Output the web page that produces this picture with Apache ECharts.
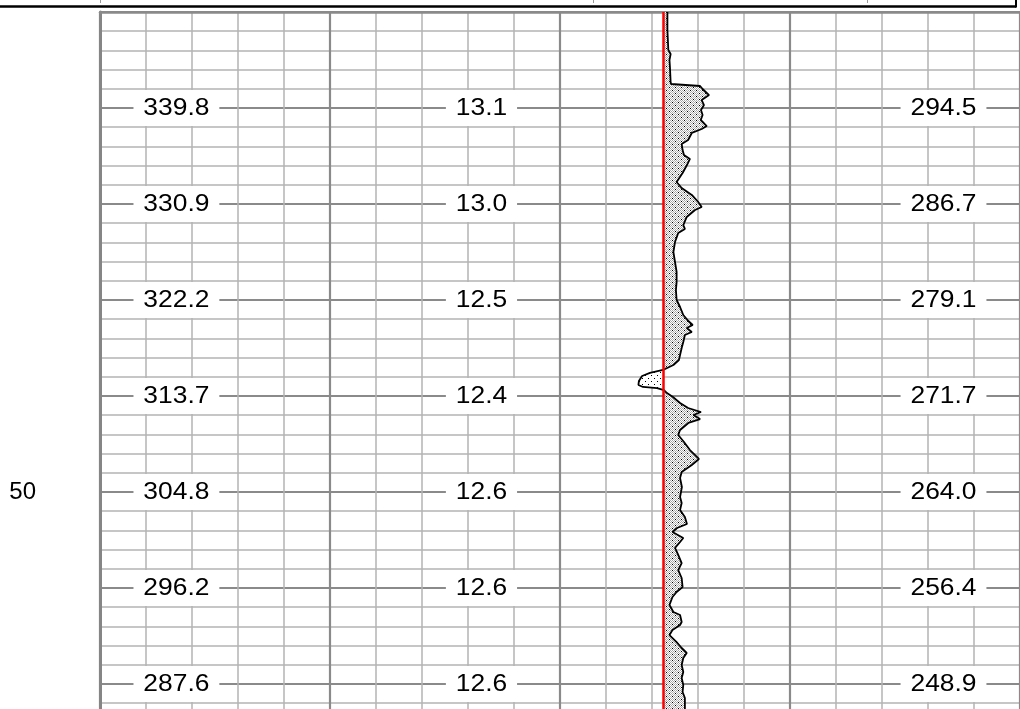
<!DOCTYPE html>
<html>
<head>
<meta charset="utf-8">
<script src="https://cdn.jsdelivr.net/npm/echarts@6/dist/echarts.min.js"></script>
<style>
  html, body { margin: 0; padding: 0; background: #fff; }
  #chart { width: 1020px; height: 709px; }
</style>
</head>
<body>
<div id="chart"></div>
<script>
// Depth window shown on the log (metres); the track runs on past the bottom edge
const depthTop = 45;
const depthBottom = 53;

// Readout depths and the values printed in the three readout tracks
const readoutDepths = [46, 47, 48, 49, 50, 51, 52];
const readoutTrack1 = [339.8, 330.9, 322.2, 313.7, 304.8, 296.2, 287.6];
const readoutTrack2 = [13.1, 13.0, 12.5, 12.4, 12.6, 12.6, 12.6];
const readoutTrack4 = [294.5, 286.7, 279.1, 271.7, 264.0, 256.4, 248.9];

// Curve track: baseline (red line) and curve samples, scale 0..100 across the track
const curveBaseline = 45;
const curveDepths = [
  45.000, 45.188, 45.396, 45.438, 45.500, 45.573, 45.729, 45.750, 45.771, 45.802,
  45.865, 45.917, 45.969, 46.021, 46.073, 46.125, 46.188, 46.219, 46.260, 46.333,
  46.375, 46.438, 46.490, 46.531, 46.594, 46.677, 46.771, 46.833, 46.906, 46.979,
  47.031, 47.063, 47.135, 47.219, 47.260, 47.302, 47.396, 47.500, 47.604, 47.708,
  47.813, 47.896, 48.000, 48.073, 48.156, 48.219, 48.260, 48.292, 48.333, 48.365,
  48.438, 48.500, 48.573, 48.625, 48.677, 48.729, 48.760, 48.792, 48.844, 48.885,
  48.906, 48.917, 48.938, 48.969, 49.010, 49.073, 49.125, 49.167, 49.198, 49.240,
  49.281, 49.354, 49.406, 49.479, 49.563, 49.656, 49.719, 49.792, 49.854, 49.948,
  50.052, 50.115, 50.188, 50.260, 50.333, 50.375, 50.417, 50.479, 50.521, 50.583,
  50.656, 50.740, 50.813, 50.896, 50.990, 51.042, 51.094, 51.177, 51.250, 51.281,
  51.354, 51.385, 51.438, 51.490, 51.563, 51.625, 51.677, 51.729, 51.802, 51.875,
  51.938, 52.010, 52.083, 52.146, 52.260, 52.300
];
const curveValues = [
  46.7, 46.7, 47.1, 48.1, 47.6, 47.8, 48.1, 48.3, 60.9, 62.0,
  64.8, 61.6, 62.6, 61.3, 62.0, 61.2, 63.8, 61.6, 57.3, 55.7,
  52.9, 53.3, 53.9, 56.5, 55.2, 53.3, 50.7, 52.9, 57.3, 60.1,
  61.6, 58.7, 55.1, 53.6, 54.3, 51.4, 50.0, 49.3, 50.0, 50.7,
  50.7, 50.4, 50.7, 52.2, 53.6, 55.8, 57.7, 55.1, 57.3, 54.3,
  53.6, 52.9, 52.2, 51.7, 49.3, 44.8, 39.1, 35.7, 34.3, 34.1,
  36.1, 42.2, 45.2, 46.5, 49.1, 52.2, 55.7, 61.3, 58.0, 60.9,
  55.8, 52.2, 51.4, 53.9, 56.5, 60.4, 57.3, 52.9, 52.2, 53.0,
  52.2, 52.9, 52.2, 54.3, 55.2, 50.9, 48.9, 53.6, 52.2, 50.0,
  51.4, 52.9, 51.4, 52.9, 53.3, 50.7, 48.9, 47.6, 49.3, 52.2,
  52.9, 52.2, 48.9, 47.6, 50.7, 52.9, 55.1, 53.6, 52.9, 53.6,
  52.9, 53.6, 53.3, 54.3, 54.3, 54.0
];

// Stipple fills for the shaded area on either side of the baseline
function makePattern(size, gray, dots) {
  const c = document.createElement('canvas');
  c.width = size; c.height = size;
  const ctx = c.getContext('2d');
  ctx.fillStyle = '#ffffff';
  ctx.fillRect(0, 0, size, size);
  if (gray) {
    ctx.fillStyle = gray;
    for (let y = 0; y < size; y++) {
      for (let x = 0; x < size; x++) {
        if ((x + y) % 2 === 0) ctx.fillRect(x, y, 1, 1);
      }
    }
  }
  ctx.fillStyle = '#000000';
  dots.forEach(([x, y]) => ctx.fillRect(x, y, 1, 1));
  return c;
}
const rightPattern = makePattern(6, '#a9a9a9', [[0, 0], [3, 3]]);
const leftPattern = makePattern(6, null, [[0, 0], [3, 3]]);

// Area between curve and baseline, split where the curve crosses it
function fillPoints(side) {
  const pts = [];
  for (let i = 0; i < curveDepths.length; i++) {
    const v = curveValues[i], d = curveDepths[i];
    if (i > 0) {
      const pv = curveValues[i - 1], pd = curveDepths[i - 1];
      if ((pv - curveBaseline) * (v - curveBaseline) < 0) {
        const t = (curveBaseline - pv) / (v - pv);
        pts.push([curveBaseline, pd + t * (d - pd)]);
      }
    }
    pts.push([side > 0 ? Math.max(v, curveBaseline) : Math.min(v, curveBaseline), d]);
  }
  pts.push([curveBaseline, curveDepths[curveDepths.length - 1]]);
  pts.push([curveBaseline, curveDepths[0]]);
  return pts;
}

const FONT = '"Liberation Sans", Arial, sans-serif';
const minorLine = { color: '#b3b3b3', width: 1.5 };
const majorLine = { color: '#8a8a8a', width: 2.2 };

function readoutSeries(column, values) {
  return {
    type: 'custom',
    xAxisIndex: 0,
    yAxisIndex: 0,
    z: 6,
    silent: true,
    data: readoutDepths.map(d => [column, d]),
    renderItem: (params, api) => {
      const p = api.coord([api.value(0), api.value(1)]);
      return {
        type: 'text',
        x: p[0],
        y: p[1],
        scaleX: 1.1,
        style: {
          text: values[params.dataIndex].toFixed(1),
          fill: '#000',
          font: '24px ' + FONT,
          align: 'center',
          verticalAlign: 'middle',
          backgroundColor: '#fff',
          padding: [6, 9, 6, 9]
        }
      };
    }
  };
}

function fillSeries(side, pattern) {
  const pts = fillPoints(side);
  return {
    type: 'custom',
    xAxisIndex: 2,
    yAxisIndex: 2,
    z: 2,
    silent: true,
    data: [[curveBaseline, depthTop]],
    renderItem: (params, api) => ({
      type: 'polygon',
      shape: { points: pts.map(p => api.coord(p)) },
      style: { fill: { image: pattern, repeat: 'repeat' }, stroke: null }
    })
  };
}

const chart = echarts.init(document.getElementById('chart'), null, { renderer: 'canvas' });
chart.setOption({
  animation: false,
  backgroundColor: '#fff',
  grid: [
    { left: 100, top: 12, width: 920, height: 768, outerBoundsMode: 'none', containLabel: false },
    { left: 560, top: 12, width: 230, height: 768, outerBoundsMode: 'none', containLabel: false }
  ],
  xAxis: [
    {
      gridIndex: 0, type: 'value', position: 'top', min: 0, max: 20, interval: 1,
      axisLine: { show: true, lineStyle: { color: '#8a8a8a', width: 2.5 } },
      axisTick: { show: false }, axisLabel: { show: false },
      splitLine: { show: true, lineStyle: minorLine }
    },
    {
      gridIndex: 0, type: 'value', position: 'top', min: 0, max: 20, interval: 5,
      axisLine: { show: false }, axisTick: { show: false }, axisLabel: { show: false },
      splitLine: { show: true, lineStyle: majorLine }
    },
    {
      gridIndex: 1, type: 'value', min: 0, max: 100, show: false,
      splitLine: { show: false }
    }
  ],
  yAxis: [
    {
      gridIndex: 0, type: 'value', position: 'left', inverse: true,
      min: depthTop, max: depthBottom, interval: 0.2,
      axisLine: { show: true, lineStyle: { color: '#858585', width: 3 } },
      axisTick: { show: false }, axisLabel: { show: false },
      splitLine: { show: true, lineStyle: minorLine }
    },
    {
      gridIndex: 0, type: 'value', position: 'left', offset: 0, inverse: true,
      min: depthTop, max: depthBottom, interval: 1,
      axisLine: { show: false }, axisTick: { show: false },
      axisLabel: {
        show: true, margin: 64, color: '#000', fontSize: 24, fontFamily: FONT,
        formatter: v => (v % 10 === 0 ? String(v) : '')
      },
      splitLine: { show: true, lineStyle: majorLine }
    },
    {
      gridIndex: 1, type: 'value', inverse: true, min: depthTop, max: depthBottom,
      show: false, splitLine: { show: false }
    }
  ],
  graphic: [
    { type: 'line', silent: true, shape: { x1: 0, y1: 6.5, x2: 1016, y2: 6.5 }, style: { stroke: '#000', lineWidth: 2.5 } },
    { type: 'line', silent: true, shape: { x1: 1016, y1: 0, x2: 1016, y2: 7.5 }, style: { stroke: '#000', lineWidth: 2 } },
    { type: 'line', silent: true, shape: { x1: 100.5, y1: 0, x2: 100.5, y2: 3 }, style: { stroke: '#999', lineWidth: 1 } },
    { type: 'line', silent: true, shape: { x1: 593.5, y1: 0, x2: 593.5, y2: 3 }, style: { stroke: '#999', lineWidth: 1 } },
    { type: 'line', silent: true, shape: { x1: 867.5, y1: 0, x2: 867.5, y2: 3 }, style: { stroke: '#999', lineWidth: 1 } }
  ],
  series: [
    fillSeries(1, rightPattern),
    fillSeries(-1, leftPattern),
    {
      type: 'line',
      xAxisIndex: 2,
      yAxisIndex: 2,
      z: 4,
      silent: true,
      symbol: 'none',
      lineStyle: { color: '#000', width: 1.8 },
      data: curveDepths.map((d, i) => [curveValues[i], d]),
      markLine: {
        silent: true,
        symbol: ['none', 'none'],
        label: { show: false },
        lineStyle: { color: '#ff0000', width: 2.5, type: 'solid' },
        data: [{ xAxis: curveBaseline }]
      }
    },
    readoutSeries(1.661, readoutTrack1),
    readoutSeries(8.293, readoutTrack2),
    readoutSeries(18.337, readoutTrack4)
  ]
});
</script>
</body>
</html>
